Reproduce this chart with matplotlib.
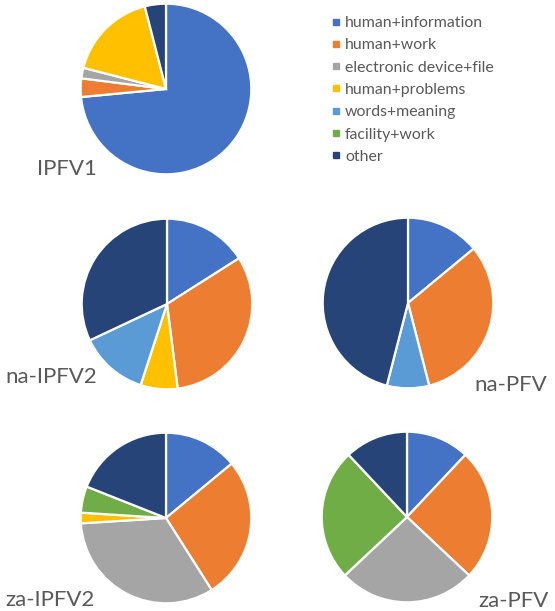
import matplotlib
matplotlib.use("Agg")
import matplotlib.pyplot as plt
from matplotlib.lines import Line2D

categories = ["human+information", "human+work", "electronic device+file",
              "human+problems", "words+meaning", "facility+work", "other"]
colors = ["#4472C4", "#ED7D31", "#A5A5A5", "#FFC000", "#5B9BD5", "#70AD47", "#264478"]

ipfv1 = [73.5, 3.5, 2, 17, 0, 0, 4]
na_ipfv2 = [16, 32, 0, 7, 13, 0, 32]
na_pfv = [14, 32, 0, 0, 8, 0, 46]
za_ipfv2 = [14, 27, 33, 2, 0, 5, 19]
za_pfv = [12, 25, 26, 0, 0, 25, 12]

W, H = 555, 611
fig = plt.figure(figsize=(W / 100, H / 100), dpi=100)
txt_color = "#595959"
font = "Lato"

# (values, name, centre x, centre y, label x, label y, label alignment) in pixels
pies = [
    (ipfv1, "IPFV1", 166, 89, 37, 169, "left"),
    (na_ipfv2, "na-IPFV2", 167, 304, 5, 377, "left"),
    (na_pfv, "na-PFV", 408, 303, 547, 385, "right"),
    (za_ipfv2, "za-IPFV2", 166, 518, 5, 600, "left"),
    (za_pfv, "za-PFV", 407, 517, 549, 601, "right"),
]
r = 87

for vals, name, cx, cy, lx, ly, ha in pies:
    ax = fig.add_axes([(cx - r) / W, 1 - (cy + r) / H, 2 * r / W, 2 * r / H])
    v = [x for x in vals if x > 0]
    c = [col for x, col in zip(vals, colors) if x > 0]
    ax.pie(v, colors=c, startangle=90, counterclock=False, radius=1,
           wedgeprops=dict(edgecolor="white", linewidth=1.6))
    ax.set_xlim(-1.02, 1.02)
    ax.set_ylim(-1.02, 1.02)
    ax.set_aspect("equal")
    ax.axis("off")
    fig.text(lx / W, 1 - ly / H, name, ha=ha, va="center", fontsize=16,
             color=txt_color, family=font)

handles = [Line2D([], [], marker="s", linestyle="none", markersize=4,
                  markerfacecolor=col, markeredgecolor=col) for col in colors]
fig.legend(handles, categories, loc="upper left",
           bbox_to_anchor=(331 / W, 1 - 16 / H), frameon=False,
           borderaxespad=0, borderpad=0,
           handlelength=0.6, handletextpad=0.28, labelspacing=0.52,
           prop=dict(family=font, size=11.4), labelcolor=txt_color)

fig.savefig("out.png", dpi=100)
